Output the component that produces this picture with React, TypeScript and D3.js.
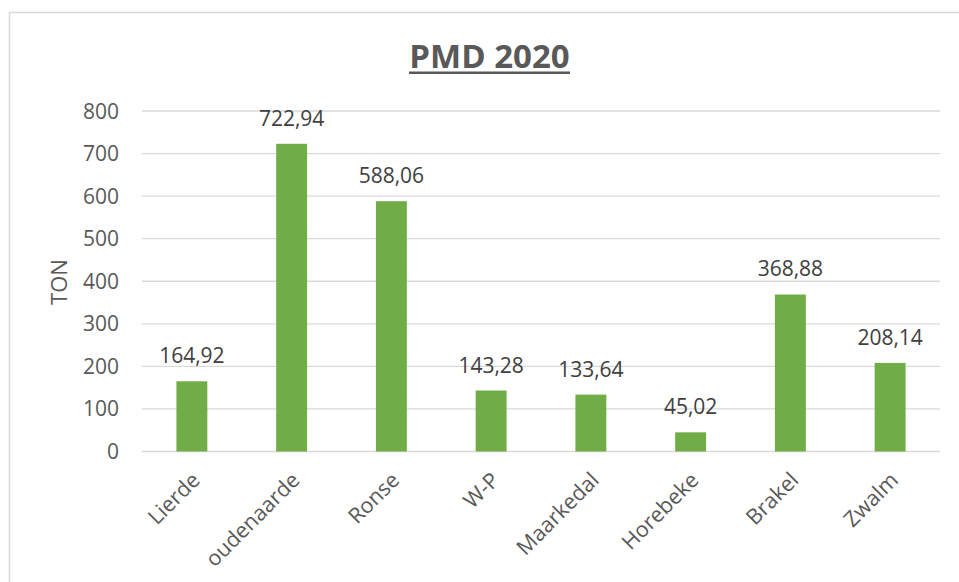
import React from "react";
import * as d3 from "d3";

const categories = ["Lierde", "oudenaarde", "Ronse", "W-P", "Maarkedal", "Horebeke", "Brakel", "Zwalm"];
const values = [164.92, 722.94, 588.06, 143.28, 133.64, 45.02, 368.88, 208.14];
const yTicks = [0, 100, 200, 300, 400, 500, 600, 700, 800];
const title = "PMD 2020";
const yTitle = "TON";

const W = 959;
const H = 582;
const FONT = "'Open Sans', sans-serif";

export default function App() {
  const x = d3.scaleBand<string>().domain(categories).range([142, 940]).paddingInner(0.69).paddingOuter(0.345);
  const y = d3.scaleLinear().domain([0, 800]).range([451.5, 111]);
  const fmt = (v: number) => v.toFixed(2).replace(".", ",");

  return (
    <div style={{ position: "fixed", left: 0, top: 0, width: W, height: H, background: "#fff" }}>
      <svg width={W} height={H} style={{ display: "block" }}>
        <rect x={0} y={0} width={W} height={H} fill="#fff" />
        {/* chart border */}
        <rect x={9.5} y={12.5} width={W + 10} height={H + 10} fill="none" stroke="#D9D9D9" strokeWidth={1.5} />
        {/* title */}
        <text x={489.5} y={68} textAnchor="middle" fontFamily={FONT} fontWeight={700} fontSize={33} fill="#595959">
          {title}
        </text>
        <rect x={409} y={71.5} width={161} height={2.5} fill="#595959" />
        {/* gridlines */}
        {yTicks.map((t) => (
          <line key={"g" + t} x1={142} x2={940} y1={y(t)} y2={y(t)} stroke="#D9D9D9" strokeWidth={1.3} />
        ))}
        {/* y tick labels */}
        {yTicks.map((t) => (
          <text key={"t" + t} x={119} y={y(t)} dy="0.36em" textAnchor="end" fontFamily={FONT} fontSize={21} fill="#595959">
            {t}
          </text>
        ))}
        {/* y title */}
        <text
          transform={`translate(59,282) rotate(-90)`}
          textAnchor="middle"
          dy="0.36em"
          fontFamily={FONT}
          fontSize={22}
          fill="#595959"
        >
          {yTitle}
        </text>
        {/* bars */}
        {categories.map((c, i) => (
          <rect key={"b" + c} x={x(c)} y={y(values[i])} width={x.bandwidth()} height={y(0) - y(values[i])} fill="#70AD47" />
        ))}
        {/* data labels */}
        {categories.map((c, i) => (
          <text
            key={"l" + c}
            x={(x(c) as number) + x.bandwidth() / 2}
            y={y(values[i]) - 18}
            textAnchor="middle"
            fontFamily={FONT}
            fontSize={21}
            fill="#404040"
          >
            {fmt(values[i])}
          </text>
        ))}
        {/* x labels */}
        {categories.map((c) => {
          const cx = (x(c) as number) + x.bandwidth() / 2;
          return (
            <text
              key={"x" + c}
              transform={`translate(${cx + 4},${476}) rotate(-45)`}
              textAnchor="end"
              dy="0.36em"
              fontFamily={FONT}
              fontSize={21.5}
              fill="#595959"
            >
              {c}
            </text>
          );
        })}
      </svg>
    </div>
  );
}
